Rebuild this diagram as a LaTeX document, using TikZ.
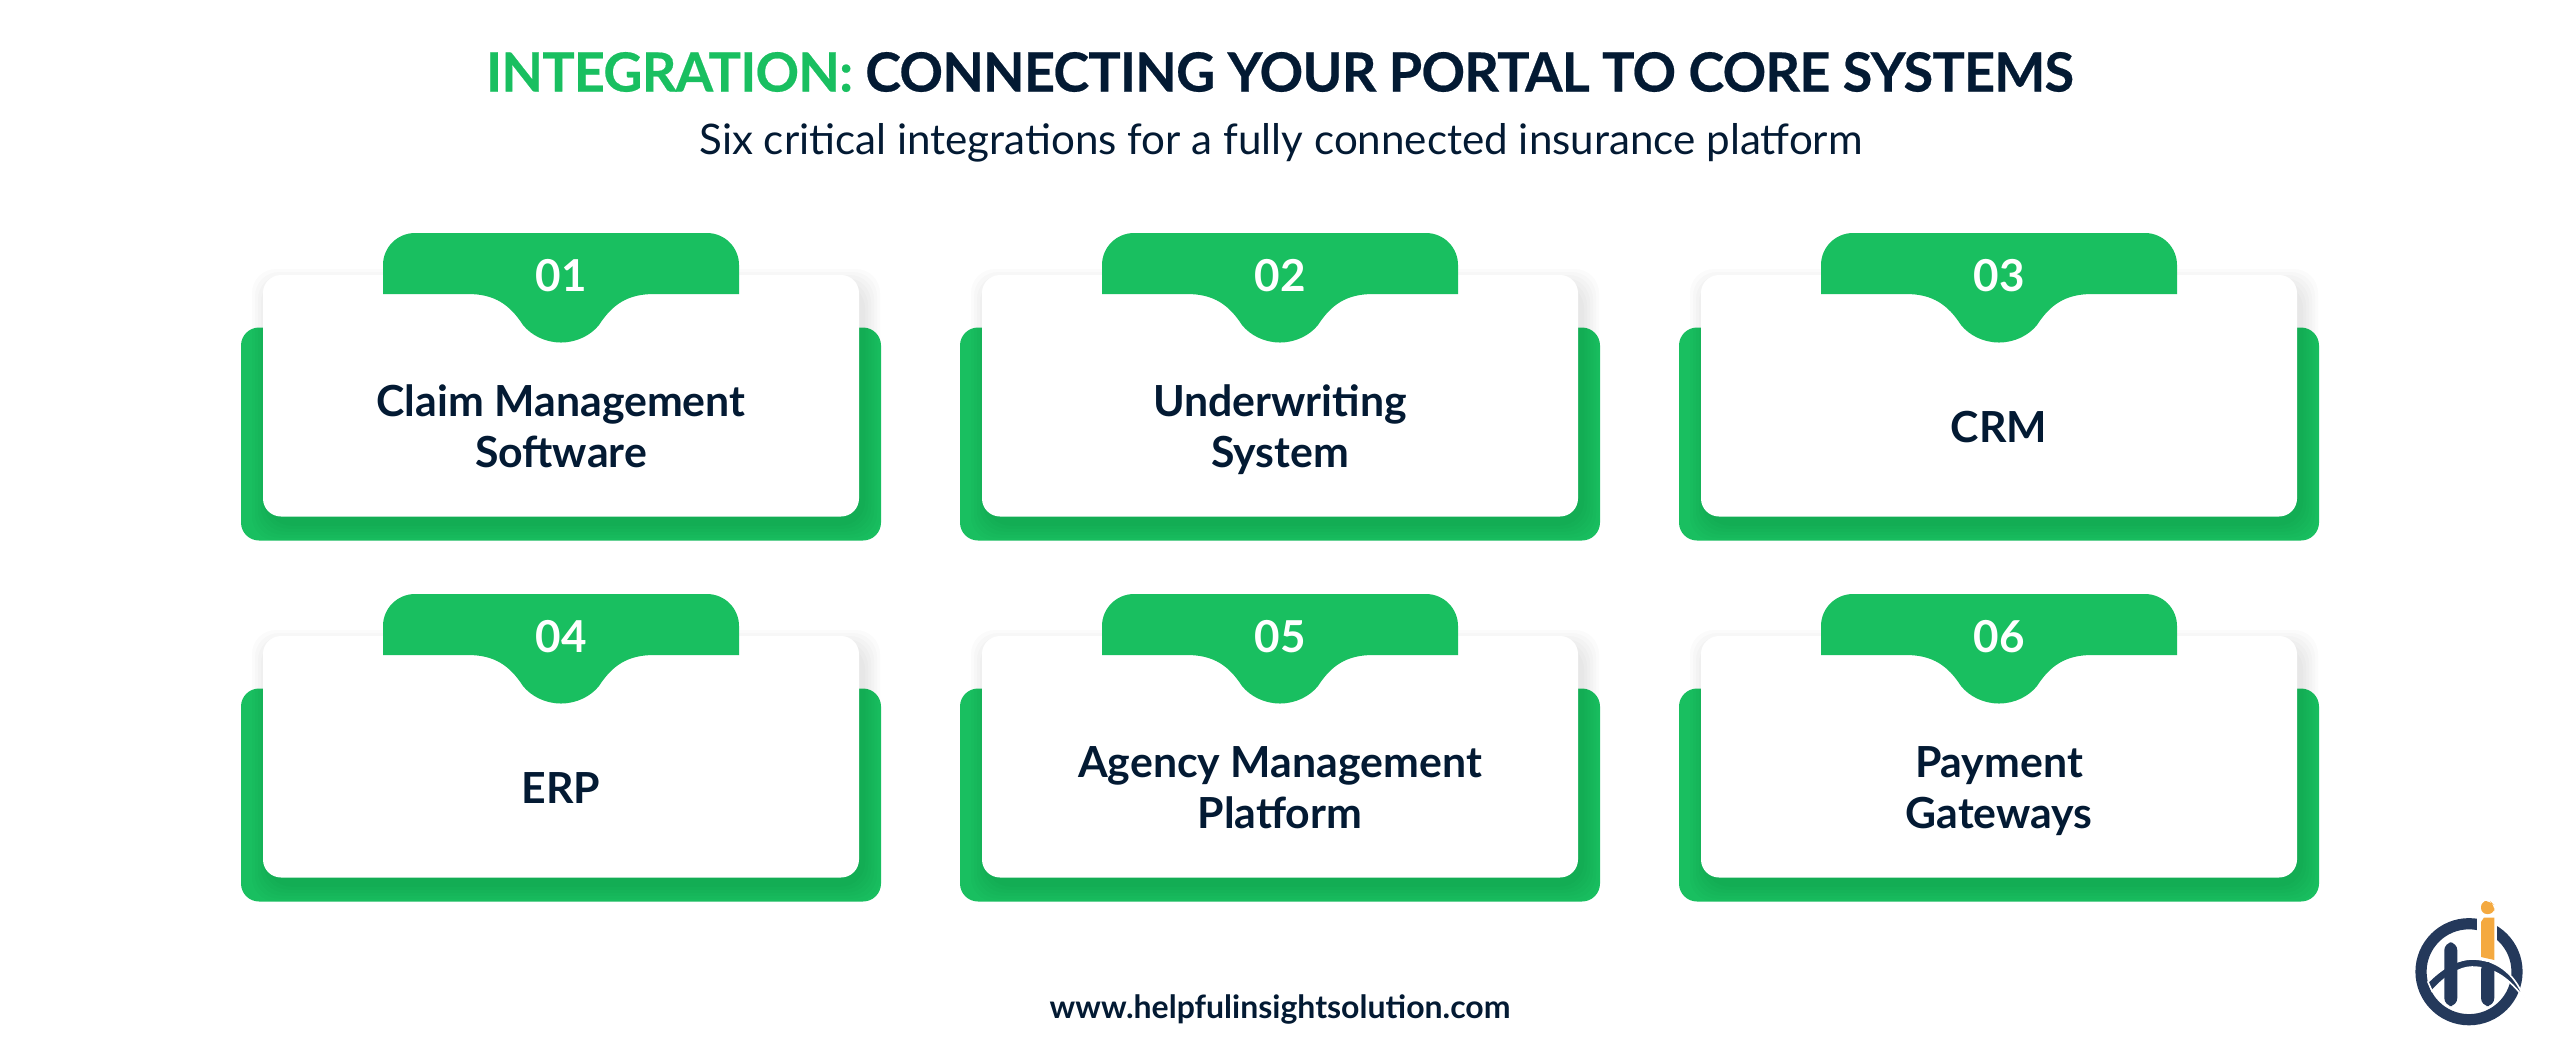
\documentclass[tikz,border=0pt]{standalone}
\usepackage{fontspec}
\setmainfont{Lato}
\definecolor{cardgreen}{HTML}{19BF60}
\definecolor{inknavy}{HTML}{031A33}
\definecolor{logonavy}{HTML}{24395B}
\definecolor{logoorange}{HTML}{F4A940}
\tikzset{
  titletext/.style={font=\fontsize{13.5}{16}\bfseries\addfontfeatures{LetterSpace=-1.45,FakeBold=0.4}, inner sep=0pt},
  subtext/.style={font=\fontsize{10.53}{13}\selectfont, text=inknavy, inner sep=0pt},
  numtext/.style={font=\fontsize{11}{13}\bfseries\selectfont, text=white, inner sep=0pt},
  cardtext/.style={font=\fontsize{10.7}{12.6}\bfseries\selectfont, text=inknavy, align=center, inner sep=0pt},
  foottext/.style={font=\fontsize{8}{10}\bfseries\selectfont, text=inknavy, inner sep=0pt}
}
\begin{document}
\begin{tikzpicture}[x=0.25pt,y=-0.25pt]
      \useasboundingbox (0,0) rectangle (2560,1063);

      % Heading
      \node[titletext] (title) at (1280,72) {\textcolor{cardgreen}{INTEGRATION:} \textcolor{inknavy}{CONNECTING YOUR PORTAL TO CORE SYSTEMS}};
      \node[subtext] (subtitle) at (1281,143) {Six critical integrations for a fully connected insurance platform};

      % Cards
      \foreach \cx/\ty/\num/\lbl in {
        561/233/01/{Claim Management\\Software},
        1280/233/02/{Underwriting\\System},
        1999/233/03/{CRM},
        561/594/04/{ERP},
        1280/594/05/{Agency Management\\Platform},
        1999/594/06/{Payment\\Gateways}} {
        \begin{scope}[shift={(\cx,\ty)}]
          % back plate
          \fill[cardgreen, rounded corners=4.5pt] (-320,94.5) rectangle (320,307.5);
          % soft shadow of the white card
          \foreach \e in {1,4,...,16} {
            \fill[black, opacity=0.016, rounded corners=6pt]
              (-298+5-\e,42+10-\e) rectangle (298+5+\e,283.5+8+\e);
          }
          % white card
          \fill[white, rounded corners=4.5pt] (-298,42) rectangle (298,283.5);
          % tab with bump
          \fill[cardgreen] (-178,61) [rounded corners=8pt] -- (-178,0) -- (178,0) [sharp corners] -- (178,61)
            -- (93,61) .. controls (66,61) and (51,72) .. (38,92)
            .. controls (30,102) and (16,109.5) .. (0,109.5)
            .. controls (-16,109.5) and (-30,102) .. (-38,92)
            .. controls (-51,72) and (-66,61) .. (-93,61) -- cycle;
          \node[numtext] (num\num) at (0,43) {\num};
          \node[cardtext] (label\num) at (0,199) {\strut\lbl\strut};
        \end{scope}
      }

      % Footer
      \node[foottext] (footer) at (1280,1009) {www.helpfulinsightsolution.com};

      % Logo
      \draw[logonavy, line width=2.8pt] (2469,971.7) circle (48);
      \fill[white] (2477,905) rectangle (2497,945);
      \fill[logonavy, draw=white, line width=0.4pt] (2428,982) .. controls (2445,965) and (2460,959) .. (2472,959)
        .. controls (2495,959) and (2514,972) .. (2524,998)
        .. controls (2510,980) and (2495,967) .. (2472,967)
        .. controls (2460,967) and (2445,976) .. (2432,991) -- cycle;
      \fill[logonavy, rounded corners=2pt] (2444.3,1006) -- (2444.3,942.3) -- (2457.3,942.3) -- (2457.3,1006) -- cycle;
      \fill[logonavy, rounded corners=2pt] (2481,1006) -- (2481,962) -- (2494.3,962) -- (2494.3,1006) -- cycle;
      \fill[logoorange, rounded corners=1.5pt] (2481,901) -- (2490,901) -- (2494.3,905) -- (2494.3,914) -- (2481,914) -- cycle;
      \fill[logoorange] (2481,957) -- (2481,922) -- (2484,917.5) -- (2494.3,917.5) -- (2494.3,960) -- cycle;
    \end{tikzpicture}
\end{document}
